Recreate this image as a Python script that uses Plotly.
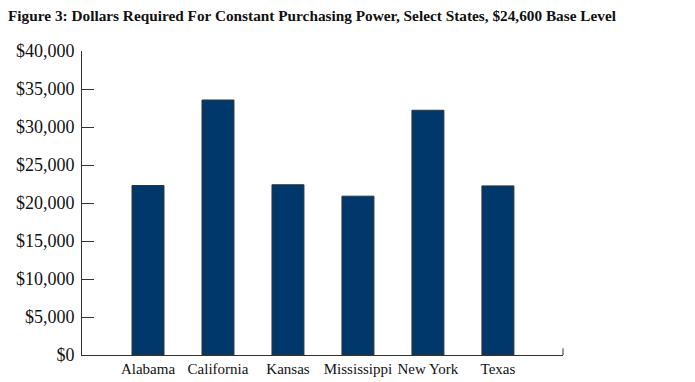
import plotly.graph_objects as go

states = ["Alabama", "California", "Kansas", "Mississippi", "New York", "Texas"]
dollars = [22300, 33550, 22400, 20900, 32200, 22250]
tick_vals = [0, 5000, 10000, 15000, 20000, 25000, 30000, 35000, 40000]
tick_text = ["$0", "$5,000", "$10,000", "$15,000", "$20,000", "$25,000", "$30,000", "$35,000", "$40,000"]
title_text = "Figure 3: Dollars Required For Constant Purchasing Power, Select States, $24,600 Base Level"

FONT = "Liberation Serif"
# page body has an 8px default margin, compensate in figure margins
OFF = 8

fig = go.Figure(go.Bar(
    x=states, y=dollars, width=0.457,
    marker=dict(color="#00386b", line=dict(color="#333333", width=1)),
))

fig.update_layout(
    width=695, height=382,
    margin=dict(l=82 - OFF, r=132 + OFF, t=51 - OFF, b=27 + OFF),
    paper_bgcolor="white", plot_bgcolor="white",
    showlegend=False,
    font=dict(family=FONT, color="#111111"),
    title=dict(text="<b>" + title_text + "</b>", x=0, xanchor="left", xref="container",
               y=1 - 2.5 / 382, yanchor="top", yref="container",
               font=dict(family=FONT, size=15.3, color="#111111"),
               automargin=False),
    xaxis=dict(range=[-0.943, 5.93], showline=True, linecolor="#333333", linewidth=1,
               ticks="", tickfont=dict(size=15), showgrid=False, zeroline=False,
               ticklabelstandoff=0, automargin=False),
    yaxis=dict(range=[0, 40000], tickvals=tick_vals, ticktext=tick_text,
               showline=True, linecolor="#333333", linewidth=1,
               ticks="inside", ticklen=12, tickcolor="#333333", tickwidth=1,
               tickfont=dict(size=18), showgrid=False, zeroline=False,
               ticklabelstandoff=3, automargin=False),
    shapes=[dict(type="line", xref="paper", yref="paper", x0=1, x1=1, y0=0, y1=0.022,
                 line=dict(color="#333333", width=1))],
)

fig.write_html("out.html")
